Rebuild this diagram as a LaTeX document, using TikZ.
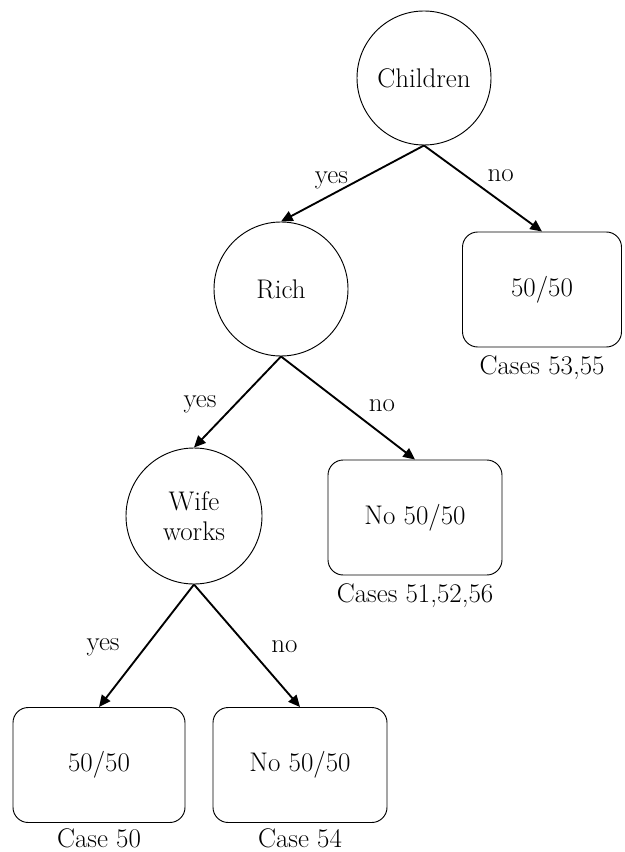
\documentclass[tikz,border=0pt]{standalone}
\usepackage{fontspec}
\usetikzlibrary{positioning,arrows.meta}

\tikzset{
  pregunta/.style={circle, draw, line width=0.8pt, minimum size=4.02cm,
    inner sep=0pt, align=center, font=\fontsize{23}{26}\selectfont},
  hoja/.style={rectangle, rounded corners=13pt, draw, line width=0.8pt,
    minimum height=3.45cm, inner sep=0pt, font=\fontsize{23}{26}\selectfont},
  casos/.style={font=\fontsize{23}{26}\selectfont, inner sep=4pt},
  rama/.style={line width=1.6pt, -{Triangle[length=10pt,width=9pt]}},
  etiqueta/.style={inner sep=0pt, font=\fontsize{23}{26}\selectfont}
}

\begin{document}
\begin{tikzpicture}[x=0.03cm, y=-0.03cm]
        % Paso 1: Fija el marco de la figura.
        \useasboundingbox (0,0) rectangle (624,852);

        % Paso 2: Define los nodos de pregunta.
        \node[pregunta] (children) at (424,78) {Children};
        \node[pregunta] (rich) at (281,289) {Rich};
        \node[pregunta, minimum size=4.08cm] (wife) at (194,516) {Wife\\works};

        % Paso 3: Define las hojas del arbol.
        \node[hoja, minimum width=4.77cm] (leafA) at (542,289.5) {50/50};
        \node[hoja, minimum width=5.22cm] (leafB) at (415,517.5) {No 50/50};
        \node[hoja, minimum width=5.16cm] (leafC) at (99,765) {50/50};
        \node[hoja, minimum width=5.22cm] (leafD) at (300,765) {No 50/50};

        % Paso 4: Escribe los casos bajo cada hoja.
        \node[casos, below=3pt of leafA] (casesA) {Cases 53,55};
        \node[casos, below=3pt of leafB] (casesB) {Cases 51,52,56};
        \node[casos, below=1pt of leafC] (casesC) {Case 50};
        \node[casos, below=1pt of leafD] (casesD) {Case 54};

        % Paso 5: Dibuja las ramas con sus etiquetas.
        \draw[rama] (children.south) -- node[etiqueta, xshift=-18pt, yshift=3pt] {yes} (rich.north);
        \draw[rama] (children.south) -- node[etiqueta, xshift=15pt, yshift=11pt] {no} (leafA.north);
        \draw[rama] (rich.south) -- node[etiqueta, xshift=-32pt, yshift=-2pt] {yes} (wife.north);
        \draw[rama] (rich.south) -- node[etiqueta, xshift=29pt, yshift=2pt] {no} (leafB.north);
        \draw[rama] (wife.south) -- node[etiqueta, xshift=-37pt, yshift=-1pt] {yes} (leafC.north);
        \draw[rama] (wife.south) -- node[etiqueta, xshift=32pt, yshift=-1pt] {no} (leafD.north);
    \end{tikzpicture}
\end{document}
